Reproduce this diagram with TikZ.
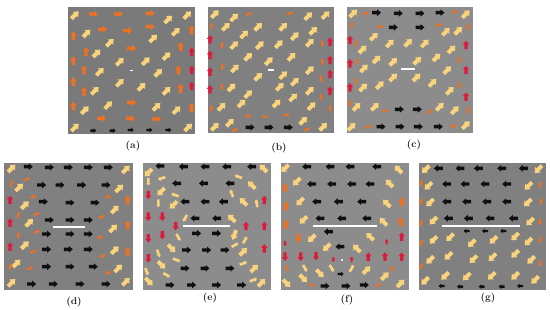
\documentclass[tikz,border=0pt]{standalone}
\usepackage{tikz}
\definecolor{ylw}{RGB}{250,212,125}
\definecolor{org}{RGB}{238,112,35}
\definecolor{rdd}{RGB}{222,25,62}
\definecolor{blk}{RGB}{15,15,15}
\definecolor{bgA}{RGB}{122,122,122}
\definecolor{bgB}{RGB}{128,128,128}
\definecolor{bgC}{RGB}{140,140,140}
\newcommand\arw[5]{\fill[#4,shift={(#1,#2)},rotate=#3,scale=#5] (-4.7pt,-1.8pt) -- (0.6pt,-1.8pt) -- (0.6pt,-3.5pt) -- (4.7pt,0pt) -- (0.6pt,3.5pt) -- (0.6pt,1.8pt) -- (-4.7pt,1.8pt) -- cycle;}
\newcommand\dsh[5]{\fill[#4,shift={(#1,#2)},rotate=#3,scale=#5] (-3pt,-1pt) -- (1.2pt,-1pt) -- (1.2pt,-1.6pt) -- (3pt,0pt) -- (1.2pt,1.6pt) -- (1.2pt,1pt) -- (-3pt,1pt) -- cycle;}
\newcommand\aY[3]{\arw{#1}{#2}{#3}{ylw}{1.1}}
\newcommand\aB[3]{\arw{#1}{#2}{#3}{blk}{0.95}}
\newcommand\aBs[3]{\arw{#1}{#2}{#3}{blk}{0.65}}
\newcommand\aR[3]{\arw{#1}{#2}{#3}{rdd}{0.9}}
\newcommand\aRs[3]{\arw{#1}{#2}{#3}{rdd}{0.55}}
\newcommand\aO[3]{\arw{#1}{#2}{#3}{org}{0.95}}
\newcommand\aOd[3]{\dsh{#1}{#2}{#3}{org}{1.05}}
\newcommand\aYd[3]{\dsh{#1}{#2}{#3}{ylw}{1.3}}
\tikzset{lbl/.style={font=\fontsize{10}{12}\selectfont\bfseries, inner sep=0pt, text=black!85},
  zoomed/.style={x=0.33333pt,y=-0.33333pt}}
\begin{document}
\begin{tikzpicture}[x=1pt,y=-1pt]
\useasboundingbox[fill=white] (0,0) rectangle (550,309);
% panel backgrounds
\fill[bgA] (68,7) rectangle (195,134);
\fill[bgB] (208,7) rectangle (334,133);
\fill[bgC] (347,7) rectangle (473,133);
\fill[bgB] (4,163) rectangle (133,290);
\fill[bgC] (143,163) rectangle (271,290);
\fill[bgC] (281,163) rectangle (409,290);
\fill[bgB] (419,163) rectangle (546,290);
% labels
\node[lbl] (la) at (133,146) {(a)};
\node[lbl] (lb) at (279,148) {(b)};
\node[lbl] (lc) at (414,145) {(c)};
\node[lbl] (ld) at (74,302) {(d)};
\node[lbl] (le) at (210,298) {(e)};
\node[lbl] (lf) at (347,300) {(f)};
\node[lbl] (lg) at (488,298) {(g)};
% ---------- (a)
\begin{scope}[shift={(60,0)},zoomed]
\aY{45}{45}{45} \aO{100}{42}{0} \aO{175}{42}{0} \aO{270}{40}{0} \aY{325}{58}{45} \aY{382}{45}{45}
\aO{40}{108}{90} \aY{80}{100}{45} \aO{128}{88}{0} \aO{203}{92}{0} \aO{270}{80}{0} \aY{348}{95}{45}
\aY{150}{128}{45} \aY{280}{115}{45} \aO{362}{140}{90} \aO{78}{155}{90} \aY{110}{160}{45} \aO{215}{145}{0}
\aO{40}{182}{90} \aY{180}{185}{45} \aY{258}{183}{45} \aY{320}{168}{45}
\aO{72}{210}{90} \aY{120}{215}{45} \aY{295}{218}{45} \aO{355}{210}{90}
\aO{40}{245}{90} \aY{180}{248}{45} \aY{245}{260}{45} \aO{362}{265}{90}
\aO{72}{275}{90} \aY{105}{272}{45} \aY{320}{272}{45}
\aY{145}{315}{45} \aO{215}{308}{0} \aO{40}{318}{90} \aY{290}{320}{45} \aY{75}{330}{45} \aY{350}{330}{45}
\aO{125}{355}{0} \aO{212}{355}{0} \aO{290}{357}{0}
\aY{45}{382}{45} \aY{385}{382}{45}
\aBs{100}{392}{0} \aBs{158}{392}{0} \aBs{212}{390}{0} \aBs{268}{390}{0} \aBs{325}{390}{0}
\aO{395}{90}{90} \aR{395}{155}{90} \aR{395}{210}{90} \aR{395}{258}{90} \aO{395}{322}{90}
\fill[white] (211,209) rectangle (219,214);
\end{scope}
% ---------- (b)
\begin{scope}[shift={(195,0)},zoomed]
\aY{60}{42}{45} \aY{118}{52}{45} \aY{340}{48}{45} \aY{392}{45}{45}
\aY{93}{80}{45} \aY{190}{80}{45} \aY{265}{80}{45} \aY{355}{92}{45}
\aY{148}{103}{45} \aY{300}{108}{45}
\aY{118}{135}{45} \aY{195}{135}{45} \aY{252}{132}{45} \aY{345}{128}{45}
\aY{160}{170}{45} \aY{290}{170}{45} \aY{222}{183}{45}
\aY{120}{205}{45} \aY{345}{210}{45}
\aY{190}{230}{45} \aY{265}{225}{45} \aY{300}{245}{45}
\aY{110}{262}{45} \aY{255}{260}{45} \aY{345}{272}{45}
\aY{160}{282}{45} \aY{295}{292}{45}
\aY{80}{320}{45} \aY{140}{310}{45} \aY{245}{310}{45} \aY{350}{318}{45}
\aY{105}{368}{45} \aY{325}{362}{45} \aY{60}{380}{45} \aY{385}{380}{45}
\aR{45}{118}{90} \aR{45}{165}{90} \aR{45}{215}{90} \aR{45}{268}{90}
\aR{405}{125}{90} \aR{405}{180}{90} \aR{405}{222}{90} \aR{405}{272}{90}
\aOd{50}{78}{80} \aOd{82}{135}{80} \aOd{82}{200}{80} \aOd{80}{260}{80} \aOd{48}{325}{80}
\aOd{382}{130}{100} \aOd{382}{185}{100} \aOd{378}{235}{100} \aOd{378}{290}{100} \aOd{405}{325}{100}
\aOd{162}{42}{20} \aOd{285}{40}{20}
\aOd{160}{348}{-10} \aOd{210}{350}{0} \aOd{275}{345}{10} \aOd{120}{390}{20} \aOd{335}{388}{20}
\aB{165}{382}{0} \aB{222}{382}{0} \aB{280}{382}{0}
\fill[white] (219,208) rectangle (238,213);
\end{scope}
% ---------- (c)
\begin{scope}[shift={(340,0)},zoomed]
\aY{40}{40}{45} \aOd{78}{40}{20} \aB{110}{38}{0} \aB{175}{40}{0} \aB{240}{40}{0} \aB{300}{38}{0} \aOd{345}{35}{20} \aY{378}{42}{45}
\aOd{35}{75}{80} \aOd{120}{80}{20} \aB{160}{82}{0} \aB{240}{82}{0} \aOd{297}{75}{20} \aY{318}{95}{45} \aY{355}{92}{45} \aOd{385}{80}{100}
\aR{30}{120}{90} \aOd{48}{130}{80} \aY{68}{148}{45} \aY{102}{110}{45} \aY{150}{130}{45} \aY{205}{128}{45} \aY{255}{130}{45} \aY{335}{148}{45} \aR{378}{135}{90}
\aR{30}{190}{90} \aOd{50}{185}{80} \aY{110}{178}{45} \aY{160}{185}{45} \aY{232}{182}{45} \aY{290}{172}{45} \aOd{358}{180}{100}
\aY{72}{205}{45} \aY{160}{232}{45} \aY{230}{232}{45} \aY{322}{210}{45} \aR{378}{210}{90} \aOd{48}{243}{80} \aR{30}{262}{90}
\aY{120}{255}{45} \aY{70}{262}{45} \aY{278}{248}{45} \aY{330}{272}{45} \aOd{358}{255}{100} \aR{378}{290}{90}
\aOd{30}{310}{80} \aY{50}{320}{45} \aY{105}{320}{45} \aOd{135}{332}{20} \aB{178}{328}{0} \aB{232}{328}{0} \aOd{270}{335}{20} \aY{300}{320}{45} \aY{345}{330}{45} \aOd{385}{330}{100}
\aY{35}{380}{45} \aOd{85}{380}{20} \aB{123}{380}{0} \aB{180}{380}{0} \aB{235}{380}{0} \aB{295}{380}{0} \aOd{340}{378}{20} \aY{378}{375}{45}
\fill[white] (184,205) rectangle (226,211);
\end{scope}
% ---------- (d)
\begin{scope}[shift={(0,150)},zoomed]
\aY{35}{55}{45} \aB{85}{50}{0} \aB{148}{52}{0} \aB{205}{52}{0} \aB{265}{52}{0} \aB{325}{52}{0} \aY{378}{58}{45}
\aOd{35}{100}{80} \aOd{80}{88}{20} \aY{58}{112}{45} \aB{125}{105}{0} \aB{180}{105}{0} \aB{245}{105}{0} \aB{318}{105}{0} \aY{358}{115}{45}
\aR{30}{150}{90} \aOd{100}{140}{20} \aY{75}{165}{45} \aB{130}{155}{0} \aB{210}{158}{0} \aB{285}{158}{0} \aOd{325}{140}{20} \aO{383}{150}{90}
\aOd{55}{195}{80} \aOd{110}{192}{20} \aB{148}{210}{0} \aB{210}{210}{0} \aB{265}{210}{0} \aY{345}{178}{45} \aOd{305}{200}{20}
\aR{30}{218}{90} \aY{88}{218}{45} \aO{383}{225}{90} \aY{340}{235}{45}
\aOd{55}{255}{80} \aOd{110}{245}{20} \aB{140}{252}{0} \aB{210}{252}{0} \aB{265}{252}{0} \aOd{300}{262}{20} \aY{75}{285}{45}
\aR{30}{290}{90} \aB{140}{298}{0} \aB{205}{298}{0} \aB{265}{298}{0} \aOd{100}{305}{20} \aOd{308}{318}{20} \aY{345}{300}{45} \aO{383}{305}{90}
\aOd{30}{350}{80} \aY{50}{340}{45} \aOd{90}{355}{20} \aB{140}{350}{0} \aB{210}{350}{0} \aB{280}{350}{0} \aOd{325}{368}{20} \aY{355}{355}{45}
\aY{35}{398}{45} \aB{95}{402}{0} \aB{160}{402}{0} \aB{240}{402}{0} \aB{318}{402}{0} \aY{378}{395}{45}
\fill[white] (160,228) rectangle (255,233);
\end{scope}
% ---------- (e)
\begin{scope}[shift={(135,150)},zoomed]
\aY{40}{68}{225} \aB{75}{48}{180} \aB{145}{50}{180} \aB{210}{50}{180} \aB{275}{50}{180} \aB{350}{50}{180} \aY{385}{55}{135}
\aYd{40}{95}{270} \aYd{80}{85}{200} \aB{125}{100}{180} \aB{205}{100}{180} \aB{285}{100}{180} \aYd{310}{80}{160} \aY{350}{105}{135}
\aR{40}{135}{270} \aY{78}{125}{225} \aYd{120}{135}{160} \aB{150}{155}{180} \aB{210}{155}{180} \aB{265}{155}{180} \aY{325}{155}{135} \aYd{290}{130}{110} \aR{388}{150}{90}
\aYd{70}{160}{270} \aY{115}{165}{225} \aYd{150}{205}{240} \aB{180}{205}{180} \aB{245}{205}{180} \aY{290}{205}{135} \aYd{365}{160}{100}
\aR{40}{200}{270} \aR{82}{200}{270} \aR{122}{228}{270} \aR{333}{228}{90} \aR{388}{228}{90}
\aR{40}{265}{270} \aR{82}{255}{270} \aYd{130}{262}{300} \aB{185}{250}{0} \aB{245}{250}{0} \aY{298}{255}{250} \aYd{330}{270}{60}
\aY{110}{295}{315} \aB{155}{300}{0} \aB{215}{300}{0} \aB{270}{300}{0} \aYd{300}{285}{30} \aY{325}{305}{45} \aR{388}{295}{90}
\aR{40}{325}{270} \aYd{70}{310}{290} \aYd{125}{330}{340} \aY{80}{345}{315} \aB{150}{355}{0} \aB{210}{355}{0} \aB{285}{355}{0} \aYd{325}{340}{20} \aY{358}{355}{45}
\aYd{35}{365}{290} \aYd{95}{375}{330} \aY{42}{395}{315} \aB{105}{405}{0} \aB{170}{405}{0} \aB{245}{405}{0} \aB{320}{405}{0} \aYd{355}{390}{20} \aY{380}{398}{45}
\fill[white] (145,226) rectangle (285,231);
\end{scope}
% ---------- (f)
\begin{scope}[shift={(270,150)},zoomed]
\aY{45}{55}{225} \aB{110}{50}{180} \aB{180}{50}{180} \aB{240}{50}{180} \aB{320}{50}{180} \aY{385}{58}{135}
\aY{80}{95}{225} \aO{45}{115}{265} \aB{125}{102}{180} \aB{185}{102}{180} \aB{245}{102}{180} \aB{300}{102}{180} \aY{358}{100}{135}
\aY{90}{155}{225} \aB{140}{155}{180} \aB{205}{155}{180} \aB{275}{155}{180} \aY{350}{160}{135} \aO{48}{170}{265} \aO{395}{155}{100}
\aY{100}{210}{225} \aB{150}{205}{180} \aB{215}{205}{180} \aB{290}{205}{180} \aY{340}{215}{135} \aO{48}{225}{265} \aO{392}{215}{100}
\aO{85}{265}{265} \aY{125}{265}{225} \aB{175}{245}{180} \aY{300}{260}{135} \aRs{45}{280}{270} \aRs{350}{275}{90} \aR{395}{260}{90}
\aY{170}{292}{225} \aB{210}{290}{180} \aY{260}{295}{135}
\aR{45}{320}{270} \aR{92}{320}{270} \aR{138}{318}{270} \aRs{190}{328}{270} \aRs{245}{328}{90} \aR{295}{320}{90} \aR{345}{320}{90} \aR{395}{320}{90}
\fill[gray!20] (213,328) rectangle (218,333);
\aOd{50}{355}{290} \aYd{105}{355}{300} \aY{150}{370}{315} \aYd{185}{355}{300} \aBs{212}{372}{0} \aYd{245}{355}{60} \aY{290}{360}{45} \aOd{365}{355}{70}
\aY{50}{400}{315} \aY{100}{385}{315} \aOd{125}{405}{-20} \aB{165}{408}{0} \aB{228}{408}{0} \aB{283}{405}{0} \aOd{325}{405}{20} \aY{345}{378}{45} \aY{392}{400}{45}
\fill[white] (130,226) rectangle (320,231);
\end{scope}
% ---------- (g)
\begin{scope}[shift={(405,150)},zoomed]
\aY{62}{58}{225} \aB{100}{55}{180} \aB{165}{55}{180} \aB{220}{55}{180} \aB{290}{55}{180} \aB{355}{55}{180} \aY{400}{58}{225}
\aOd{48}{100}{255} \aY{70}{108}{225} \aB{125}{102}{180} \aB{180}{102}{180} \aB{240}{102}{180} \aB{305}{102}{180} \aY{370}{108}{225} \aOd{405}{105}{255}
\aOd{48}{155}{255} \aY{75}{158}{225} \aB{125}{155}{180} \aB{185}{155}{180} \aB{245}{155}{180} \aB{305}{155}{180} \aY{368}{158}{225} \aOd{408}{155}{255}
\aOd{48}{220}{255} \aY{85}{212}{225} \aB{130}{205}{180} \aB{190}{205}{180} \aB{255}{205}{180} \aB{325}{205}{180} \aY{375}{215}{225} \aOd{405}{215}{255}
\aBs{185}{243}{180} \aBs{240}{243}{180} \aBs{295}{243}{180}
\aY{85}{270}{225} \aY{135}{262}{225} \aY{200}{280}{225} \aY{265}{270}{225} \aY{330}{260}{225} \aY{370}{275}{225} \aOd{405}{270}{255} \aOd{48}{280}{255}
\aY{75}{330}{225} \aY{130}{318}{225} \aY{205}{328}{225} \aY{262}{322}{225} \aY{330}{312}{225} \aY{378}{330}{225} \aOd{48}{350}{255} \aOd{405}{340}{255}
\aY{120}{378}{225} \aY{185}{380}{225} \aY{260}{378}{225} \aY{330}{378}{225} \aY{390}{390}{225}
\aY{60}{393}{225} \aBs{110}{408}{180} \aBs{165}{410}{180} \aBs{230}{410}{180} \aBs{290}{410}{180} \aBs{345}{408}{180}
\fill[white] (110,226) rectangle (345,231);
\end{scope}
\end{tikzpicture}
\end{document}
